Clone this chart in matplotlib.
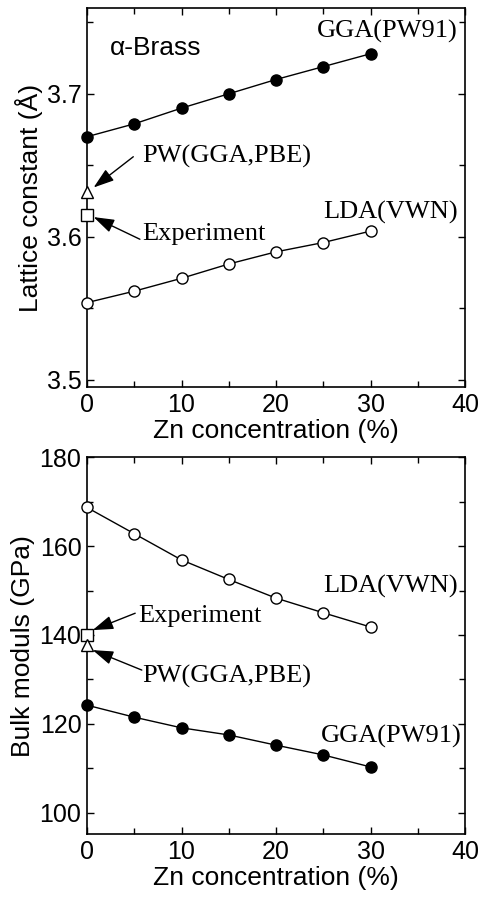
import matplotlib
matplotlib.use("Agg")
import matplotlib.pyplot as plt
from matplotlib.ticker import MultipleLocator

zn = [0, 5, 10, 15, 20, 25, 30]
lat_gga = [3.670, 3.679, 3.690, 3.700, 3.710, 3.719, 3.728]
lat_lda = [3.554, 3.562, 3.571, 3.581, 3.5895, 3.596, 3.604]
lat_pbe = 3.631
lat_exp = 3.615
bulk_lda = [168.7, 162.8, 156.9, 152.5, 148.3, 145.0, 141.8]
bulk_gga = [124.2, 121.5, 119.1, 117.5, 115.2, 113.0, 110.3]
bulk_exp = 140.0
bulk_pbe = 137.8

SANS = "Liberation Sans"
SERIF = "Liberation Serif"
TFS = 18   # tick labels
LFS = 19   # axis labels
AFS = 19   # annotations

fig = plt.figure(figsize=(4.81, 9.0), dpi=100)
ax1 = fig.add_axes([87/481, 1-387/900, 378/481, 379/900])
ax2 = fig.add_axes([87/481, 1-834/900, 378/481, (834-457.3)/900])

def style(ax):
    ax.set_xlim(0, 40)
    ax.xaxis.set_major_locator(MultipleLocator(10))
    ax.xaxis.set_minor_locator(MultipleLocator(5))
    ax.tick_params(which="both", direction="in", top=True, right=True, width=1.0)
    ax.tick_params(which="major", length=5, labelsize=TFS, pad=4)
    ax.tick_params(which="minor", length=4)
    for lab in ax.get_xticklabels() + ax.get_yticklabels():
        lab.set_fontfamily(SANS)
    for s in ax.spines.values():
        s.set_linewidth(1.2)
    ax.set_xlabel("Zn concentration (%)", fontsize=LFS, fontfamily=SANS, labelpad=2)

ms = 8
arrow = dict(arrowstyle="-|>,head_length=0.9,head_width=0.3", color="black", lw=1.0,
             mutation_scale=14, shrinkA=0, shrinkB=0)

# Top panel
ax1.plot(zn, lat_gga, "-o", color="black", mfc="black", ms=ms, lw=1.0, clip_on=False, zorder=3)
ax1.plot(zn, lat_lda, "-o", color="black", mfc="white", ms=ms, lw=1.0, mew=1.0, clip_on=False, zorder=3)
ax1.plot([0], [lat_pbe], "^", color="black", mfc="white", ms=ms, mew=1.0, clip_on=False, zorder=4)
ax1.plot([0], [lat_exp], "s", color="black", mfc="white", ms=ms, mew=1.0, clip_on=False, zorder=4)
ax1.set_ylim(3.495, 3.76)
ax1.yaxis.set_major_locator(MultipleLocator(0.1))
ax1.yaxis.set_minor_locator(MultipleLocator(0.05))
style(ax1)
ax1.set_yticks([3.5, 3.6, 3.7])
ax1.set_yticklabels(["3.5", "3.6", "3.7"], fontfamily=SANS, fontsize=TFS)
ax1.set_ylabel("Lattice constant (Å)", fontsize=LFS, fontfamily=SANS, labelpad=3)

ax1.text(2.4, 3.732, "α-Brass", fontsize=AFS, fontfamily=SANS, va="center", ha="left")
ax1.text(24.3, 3.7436, "GGA(PW91)", fontsize=AFS, fontfamily=SERIF, va="center", ha="left")
ax1.text(25.0, 3.617, "LDA(VWN)", fontsize=AFS, fontfamily=SERIF, va="center", ha="left")
ax1.text(5.8, 3.656, "PW(GGA,PBE)", fontsize=AFS, fontfamily=SERIF, va="center", ha="left")
ax1.text(5.8, 3.6017, "Experiment", fontsize=AFS, fontfamily=SERIF, va="center", ha="left")
ax1.annotate("", xy=(0.7, 3.6345), xytext=(4.9, 3.656), arrowprops=arrow)
ax1.annotate("", xy=(0.7, 3.6138), xytext=(5.6, 3.5983), arrowprops=arrow)

# Bottom panel
ax2.plot(zn, bulk_lda, "-o", color="black", mfc="white", ms=ms, lw=1.0, mew=1.0, clip_on=False, zorder=3)
ax2.plot(zn, bulk_gga, "-o", color="black", mfc="black", ms=ms, lw=1.0, clip_on=False, zorder=3)
ax2.plot([0], [bulk_exp], "s", color="black", mfc="white", ms=ms, mew=1.0, clip_on=False, zorder=4)
ax2.plot([0], [bulk_pbe], "^", color="black", mfc="white", ms=ms, mew=1.0, clip_on=False, zorder=4)
ax2.set_ylim(95.2, 180)
ax2.yaxis.set_major_locator(MultipleLocator(20))
ax2.yaxis.set_minor_locator(MultipleLocator(10))
style(ax2)
ax2.set_yticks([100, 120, 140, 160, 180])
ax2.set_yticklabels(["100", "120", "140", "160", "180"], fontfamily=SANS, fontsize=TFS)
ax2.set_ylabel("Bulk moduls (GPa)", fontsize=LFS, fontfamily=SANS, labelpad=3)

ax2.text(25.0, 150.9, "LDA(VWN)", fontsize=AFS, fontfamily=SERIF, va="center", ha="left")
ax2.text(24.7, 117.1, "GGA(PW91)", fontsize=AFS, fontfamily=SERIF, va="center", ha="left")
ax2.text(5.4, 144.3, "Experiment", fontsize=AFS, fontfamily=SERIF, va="center", ha="left")
ax2.text(5.8, 130.6, "PW(GGA,PBE)", fontsize=AFS, fontfamily=SERIF, va="center", ha="left")
ax2.annotate("", xy=(0.6, 141.1), xytext=(5.1, 144.9), arrowprops=arrow)
ax2.annotate("", xy=(0.6, 136.6), xytext=(5.8, 132.1), arrowprops=arrow)

fig.savefig("out.png", dpi=100)
